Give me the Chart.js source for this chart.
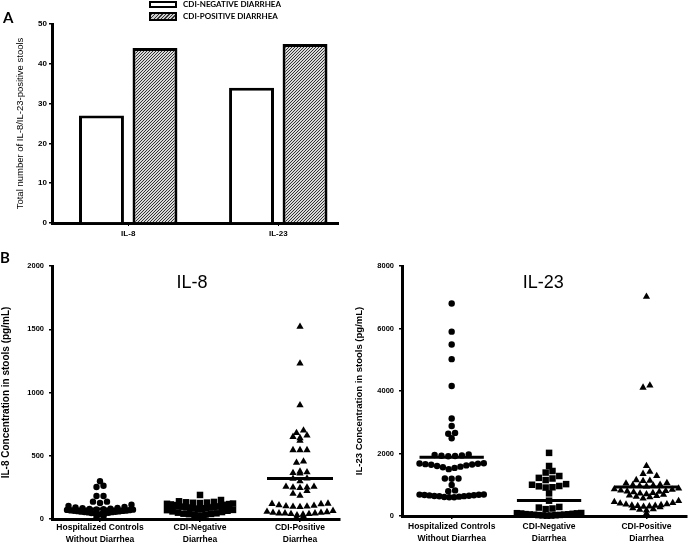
<!DOCTYPE html>
<html>
<head>
<meta charset="utf-8">
<script src="https://cdn.jsdelivr.net/npm/chart.js@4.4.1/dist/chart.umd.min.js"></script>
<style>
body { margin: 0; background: #fff; }
#page { position: relative; width: 691px; height: 547px; overflow: hidden; }
.box { position: absolute; }
.panel { position: absolute; font: bold 15px Lato, sans-serif; line-height: 15px; }
.leg { position: absolute; left: 149px; width: 24px; border: 2px solid #000; }
.legtxt { position: absolute; left: 183px; font: bold 8px Lato, sans-serif; line-height: 9px; }
</style>
</head>
<body>
<div id="page">
  <div class="box" style="left:0;top:0;width:345px;height:248px"><canvas id="grafA"></canvas></div>
  <div class="box" style="left:0;top:250px;width:345px;height:297px"><canvas id="grafB1"></canvas></div>
  <div class="box" style="left:345px;top:250px;width:346px;height:297px"><canvas id="grafB2"></canvas></div>
  <div class="panel" style="left:3px;top:10px">A</div>
  <div class="panel" style="left:0;top:250px">B</div>
  <div class="leg" style="top:1px;height:3px;background:#fff"></div>
  <div class="leg" style="top:12px;height:5px;background:repeating-linear-gradient(135deg,#333 0 1px,#ccc 1px 2.5px)"></div>
  <div class="legtxt" style="top:0px">CDI-NEGATIVE DIARRHEA</div>
  <div class="legtxt" style="top:12px">CDI-POSITIVE DIARRHEA</div>
</div>
<script>
// panel A
var barCategories = ['IL-8', 'IL-23'];
var barNegative = [27, 34];
var barPositive = [44, 45];

// panel B
var groupLabels = [['Hospitalized Controls', 'Without Diarrhea'], ['CDI-Negative', 'Diarrhea'], ['CDI-Positive', 'Diarrhea']];

var il8Controls = [298, 263, 253, 182, 182, 137, 137, 126, 113, 103, 95, 92, 88, 85, 82, 80, 78, 76,
  74, 72, 70, 68, 66, 65, 64, 62, 60, 58, 57, 55, 54, 52, 50, 48, 46, 45, 40, 35, 20, 10];
var il8Negative = [190, 150, 140, 135, 132, 130, 128, 126, 122, 120, 118, 115, 112, 110, 108, 105, 100,
  98, 95, 92, 90, 88, 85, 82, 80, 78, 72, 70, 65, 60, 55, 50, 45, 42, 40, 38, 35, 30, 28, 22, 20];
var il8Positive = [1520, 1230, 900, 700, 680, 660, 650, 640, 620, 545, 545, 545, 455, 445, 375, 370, 365,
  360, 320, 318, 300, 255, 250, 245, 250, 255, 222, 200, 185, 122, 120, 118, 110, 105, 102, 100, 98, 95,
  65, 58, 55, 50, 50, 45, 45, 45, 40, 40, 35, 30, 20, 10];
var il8Medians = [80, 85, 320];

var il23Controls = [6800, 5900, 5490, 5020, 4160, 3120, 2880, 2660, 2630, 2490, 1970, 1950, 1940, 1930,
  1920, 1910, 1690, 1680, 1670, 1660, 1650, 1640, 1620, 1600, 1580, 1560, 1540, 1500, 1200, 1200, 1190,
  990, 820, 790, 690, 685, 680, 670, 665, 660, 650, 640, 635, 630, 620, 610, 600, 600];
var il23Negative = [2020, 1600, 1440, 1390, 1280, 1220, 1200, 1150, 1020, 1000, 960, 950, 920, 910, 725,
  490, 290, 270, 240, 220, 95, 90, 85, 80, 70, 60, 55, 50, 45, 40, 35, 30, 25, 20, 15, 10];
var il23Positive = [7020, 4180, 4110, 1600, 1420, 1350, 1280, 1150, 1130, 1120, 1060, 1040, 1000, 990,
  980, 960, 950, 880, 860, 840, 820, 800, 790, 780, 760, 740, 720, 700, 680, 660, 640, 620, 600, 560,
  480, 450, 420, 400, 380, 370, 350, 340, 330, 320, 310, 300, 280, 250, 220, 200, 180, 85];
var il23Medians = [1880, 500, 930];

Chart.defaults.font.family = 'Arial, "Liberation Sans", sans-serif';
Chart.defaults.color = '#000';

// hatched fill for the CDI-positive bars
function hatch() {
  var c = document.createElement('canvas');
  c.width = 3; c.height = 3;
  var g = c.getContext('2d');
  g.fillStyle = '#d8d8d8'; g.fillRect(0, 0, 3, 3);
  g.strokeStyle = '#333'; g.lineWidth = 1;
  g.beginPath();
  g.moveTo(0, 3); g.lineTo(3, 0);
  g.moveTo(-1, 1); g.lineTo(1, -1);
  g.moveTo(2, 4); g.lineTo(4, 2);
  g.stroke();
  return g.createPattern(c, 'repeat');
}

// rows of dots spread side by side, like a prism scatter plot
function swarm(values, cat, rowSize, step, halfWidth) {
  var rows = {};
  values.forEach(function(v) {
    var k = Math.round(v / rowSize);
    if (!rows[k]) rows[k] = [];
    rows[k].push(v);
  });
  var points = [];
  Object.keys(rows).forEach(function(k) {
    var row = rows[k].slice().sort(function(a, b) { return a - b; });
    var n = row.length;
    var s = n > 1 ? Math.min(step, 2 * halfWidth / (n - 1)) : 0;
    var slots = [];
    for (var i = 0; i < n; i++) slots.push((i - (n - 1) / 2) * s);
    slots.sort(function(a, b) { return Math.abs(a) - Math.abs(b) || a - b; });
    row.forEach(function(v, i) { points.push({x: cat + slots[i], y: v}); });
  });
  return points;
}

function medianLines(meds) {
  var pts = [];
  meds.forEach(function(m, i) {
    pts.push({x: i + 1 - 0.33, y: m}, {x: i + 1 + 0.33, y: m}, {x: i + 1.5, y: null});
  });
  return pts;
}

var innerTitle = {
  id: 'innerTitle',
  afterDraw: function(chart, args, opts) {
    if (!opts.text) return;
    var a = chart.chartArea, ctx = chart.ctx;
    ctx.save();
    ctx.font = opts.font;
    ctx.fillStyle = '#000';
    ctx.textAlign = 'center';
    ctx.textBaseline = 'middle';
    ctx.fillText(opts.text, (a.left + a.right) / 2 + opts.dx, a.top + opts.dy);
    ctx.restore();
  }
};

var bold = function(size) { return {size: size, weight: 'bold'}; };
var plain = function(v) { return String(v); };

// ---- A: bars
new Chart(document.getElementById('grafA'), {
  type: 'bar',
  data: {
    datasets: [{
      label: 'CDI-NEGATIVE DIARRHEA',
      data: barNegative.map(function(v, i) { return {x: i + 1, y: v}; }),
      backgroundColor: '#fff',
      borderColor: '#000',
      borderWidth: 3,
      borderSkipped: 'start'
    }, {
      label: 'CDI-POSITIVE DIARRHEA',
      data: barPositive.map(function(v, i) { return {x: i + 1, y: v}; }),
      backgroundColor: hatch(),
      borderColor: '#000',
      borderWidth: 3,
      borderSkipped: 'start'
    }]
  },
  options: {
    responsive: true,
    maintainAspectRatio: false,
    animation: false,
    categoryPercentage: 0.713,
    barPercentage: 0.84,
    layout: {padding: {top: 24, right: 7, left: 0, bottom: 0}},
    plugins: {legend: {display: false}, tooltip: {enabled: false}},
    scales: {
      x: {
        type: 'linear', offset: false, min: 0.492, max: 2.398,
        afterBuildTicks: function(s) { s.ticks = [{value: 1}, {value: 2}]; },
        afterFit: function(s) { s.height = 25; },
        ticks: {font: bold(8), padding: 3, callback: function(v) { return barCategories[v - 1]; }},
        grid: {offset: false, drawOnChartArea: false, tickLength: 3, color: '#000'},
        border: {color: '#000', width: 3}
      },
      y: {
        min: 0, max: 50,
        afterFit: function(s) { s.width = 52; },
        ticks: {stepSize: 10, font: bold(8), padding: 2, callback: plain},
        grid: {drawOnChartArea: false, tickLength: 3, color: '#000', lineWidth: 1.5},
        border: {color: '#000', width: 3},
        title: {display: true, text: 'Total number of IL-8/IL-23-positive stools',
          font: {family: '"Liberation Sans Narrow", "Arial Narrow", sans-serif', size: 9.5}, padding: {top: 15, bottom: 0}}
      }
    }
  }
});

// ---- B: dot plots
function dotPlot(id, groups, meds, o) {
  var marks = [
    {style: 'circle', radius: 3.2},
    {style: 'rect', radius: 4.6},
    {style: 'triangle', radius: 4.2}
  ];
  var datasets = [{
    type: 'line',
    data: medianLines(meds),
    showLine: true,
    spanGaps: false,
    borderColor: '#000',
    borderWidth: 3,
    pointRadius: 0,
    clip: false
  }];
  groups.forEach(function(vals, i) {
    datasets.push({
      data: swarm(vals, i + 1, o.rowSize, 0.07, 0.33),
      pointStyle: marks[i].style,
      pointRadius: marks[i].radius,
      backgroundColor: '#000',
      borderColor: '#000',
      borderWidth: 0,
      clip: false
    });
  });
  return new Chart(document.getElementById(id), {
    type: 'scatter',
    data: {datasets: datasets},
    plugins: [innerTitle],
    options: {
      responsive: true,
      maintainAspectRatio: false,
      animation: false,
      layout: {padding: {top: 16, right: o.right, left: 0, bottom: 0}},
      plugins: {
        legend: {display: false},
        tooltip: {enabled: false},
        innerTitle: {text: o.title, font: '18px Arial, "Liberation Sans", sans-serif', dx: o.dx, dy: 17}
      },
      scales: {
        x: {
          type: 'linear', min: o.xmin, max: o.xmax,
          afterBuildTicks: function(s) { s.ticks = [{value: 1}, {value: 2}, {value: 3}]; },
          afterFit: function(s) { s.height = o.xh; },
          ticks: {font: {size: 8.5, weight: 'bold', lineHeight: 1.35}, padding: o.xpad,
            callback: function(v) { return groupLabels[v - 1]; }},
          grid: {drawOnChartArea: false, tickLength: 3, color: '#000', lineWidth: 1.5},
          border: {color: '#000', width: 3}
        },
        y: {
          min: 0, max: o.ymax,
          afterFit: function(s) { s.width = o.yw; },
          ticks: {stepSize: o.step, font: bold(7.5), padding: 5, callback: plain},
          grid: {drawOnChartArea: false, tickLength: 3, color: '#000', lineWidth: 1.5},
          border: {color: '#000', width: 3},
          title: {display: true, text: o.ytitle, font: bold(o.yfont), padding: {top: o.tpad, bottom: 0}}
        }
      }
    }
  });
}

dotPlot('grafB1', [il8Controls, il8Negative, il8Positive], il8Medians, {
  title: 'IL-8', dx: -4, rowSize: 50, ymax: 2000, step: 500,
  xmin: 0.52, xmax: 3.4, right: 5, xh: 28, xpad: 0, yw: 52,
  ytitle: 'IL-8 Concentration in stools (pg/mL)', yfont: 10, tpad: 0
});

dotPlot('grafB2', [il23Controls, il23Negative, il23Positive], il23Medians, {
  title: 'IL-23', dx: -1, rowSize: 200, ymax: 8000, step: 2000,
  xmin: 0.49, xmax: 3.41, right: 1, xh: 31, xpad: 2, yw: 57,
  ytitle: 'IL-23 Concentration in stools (pg/mL)', yfont: 9.5, tpad: 9
});
</script>
</body>
</html>
